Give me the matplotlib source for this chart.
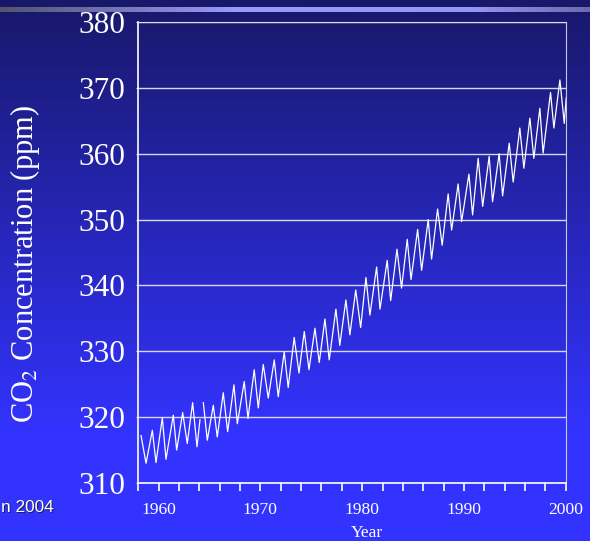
# Mauna Loa CO2 record 1958-2000, slide-style chart on a blue gradient
import numpy as np
import matplotlib
matplotlib.use("Agg")
import matplotlib.pyplot as plt
from matplotlib.colors import LinearSegmentedColormap
from matplotlib.ticker import MultipleLocator

plt.rcParams["mathtext.fontset"] = "stix"

# Data: seasonal peaks / troughs (year, ppm)
# NaN marks the data gap early in 1964
years = [1958.27, 1958.76, 1959.38, 1959.74, 1960.36, 1960.72, 1961.44, 1961.77,
         1962.36, 1962.81, 1963.34, 1963.77, 1964.06, np.nan,
         1964.39, 1964.78, 1965.37, 1965.76, 1966.35, 1966.78, 1967.40, 1967.73,
         1968.41, 1968.78, 1969.39, 1969.79, 1970.28, 1970.77, 1971.36, 1971.75,
         1972.34, 1972.73, 1973.32, 1973.79, 1974.31, 1974.77, 1975.36, 1975.78,
         1976.34, 1976.76, 1977.42, 1977.80, 1978.40, 1978.79, 1979.37, 1979.85,
         1980.37, 1980.76, 1981.42, 1981.75, 1982.46, 1982.80, 1983.42, 1983.87,
         1984.43, 1984.80, 1985.45, 1985.84, 1986.49, 1986.82, 1987.41, 1987.86,
         1988.45, 1988.79, 1989.43, 1989.77, 1990.49, 1990.85, 1991.40, 1991.84,
         1992.48, 1992.81, 1993.46, 1993.80, 1994.45, 1994.84, 1995.49, 1995.89,
         1996.48, 1996.87, 1997.46, 1997.78, 1998.51, 1998.84, 1999.43, 1999.86,
         2000.05]
co2 = [317.2, 313.0, 318.0, 313.1, 319.9, 313.6, 320.3, 315.0,
       320.7, 316.0, 322.2, 315.5, 319.6, np.nan,
       322.2, 316.5, 321.8, 317.0, 323.7, 317.8, 324.9, 319.0,
       325.4, 319.8, 327.2, 321.4, 328.0, 322.9, 328.7, 323.1,
       329.9, 324.5, 332.1, 326.7, 333.0, 327.2, 333.5, 328.3,
       334.9, 328.7, 336.4, 330.9, 337.8, 332.5, 339.3, 333.6,
       341.2, 335.5, 342.8, 336.4, 343.8, 337.7, 345.5, 339.6,
       347.0, 340.9, 348.5, 342.3, 350.0, 344.0, 351.6, 346.1,
       353.9, 348.4, 355.4, 349.7, 356.9, 350.7, 359.3, 352.0,
       359.6, 352.7, 360.0, 353.6, 361.6, 355.7, 363.9, 357.8,
       365.4, 359.3, 366.9, 360.1, 369.3, 363.9, 371.2, 364.6,
       368.5]

y_ticks = [310, 320, 330, 340, 350, 360, 370, 380]
x_ticks = [1960, 1970, 1980, 1990, 2000]

W, H = 590, 541
fig = plt.figure(figsize=(W / 100, H / 100), dpi=100)

# background: vertical gradient plus the thin stripe at the top
bg = fig.add_axes([0, 0, 1, 1], zorder=-10)
bg_cmap = LinearSegmentedColormap.from_list(
    "bg", [(0.0, "#18186a"), (0.8, "#3333ff"), (1.0, "#3333ff")])
grad = np.linspace(0, 1, 256).reshape(-1, 1)
bg.imshow(grad, cmap=bg_cmap, aspect="auto", extent=[0, 1, 0, 1], origin="upper")
stripe_cmap = LinearSegmentedColormap.from_list(
    "stripe", [(0.0, "#55556e"), (0.03, "#58587a"), (0.4, "#9999ff"),
               (0.8, "#9595f5"), (1.0, "#6b6bab")])
bg.imshow(np.linspace(0, 1, 256).reshape(1, -1), cmap=stripe_cmap, aspect="auto",
          extent=[0, 1, 1 - 12 / H, 1 - 7 / H])
bg.set_xlim(0, 1)
bg.set_ylim(0, 1)
bg.axis("off")

ax = fig.add_axes([138.3 / W, 1 - 483 / H, (565.7 - 138.3) / W, (483 - 22) / H])
ax.set_facecolor("none")
ax.plot(years, co2, color="white", lw=0.9, solid_joinstyle="round")

ax.set_xlim(1958, 2000)
ax.set_ylim(310, 380)
ax.set_xticks(x_ticks)
ax.xaxis.set_minor_locator(MultipleLocator(2))
ax.set_yticks(y_ticks)
ax.grid(axis="y", color="#d8d8ee", lw=1.0)
ax.set_axisbelow(True)

for side in ["left", "bottom"]:
    ax.spines[side].set_color("white")
    ax.spines[side].set_linewidth(1.2)
ax.spines["right"].set_color("#c8c8e0")
ax.spines["top"].set_color("#d8d8ee")

serif = "Liberation Serif"
ax.tick_params(axis="x", which="both", colors="white", length=6, width=1.2,
               direction="out", pad=8)
ax.tick_params(axis="y", colors="#d8d8ee", length=1.5, pad=8)
for lab in ax.get_xticklabels():
    lab.set_fontfamily(serif)
    lab.set_fontsize(12.6)
for lab in ax.get_yticklabels():
    lab.set_fontfamily(serif)
    lab.set_fontsize(22.5)
    lab.set_color("white")

ax.set_ylabel("CO$_2$ Concentration (ppm)", family=serif, fontsize=22,
              color="white")
ax.yaxis.set_label_coords(-0.226, 0.475)
ax.set_xlabel("Year", family=serif, fontsize=12.6, color="white", va="baseline")
ax.xaxis.set_label_coords((1980 - 1958) / 42 + 0.012, -(537 - 483) / 461)

# fragment of the source line, cut at the left edge
fig.text(1 / W + 0.0017, 1 - 512 / H - 0.002, "n 2004", family="Liberation Sans",
         fontsize=12.4, color="#222244", ha="left", va="baseline")
fig.text(1 / W, 1 - 512 / H, "n 2004", family="Liberation Sans",
         fontsize=12.4, color="white", ha="left", va="baseline")

fig.savefig("out.png", dpi=100)
